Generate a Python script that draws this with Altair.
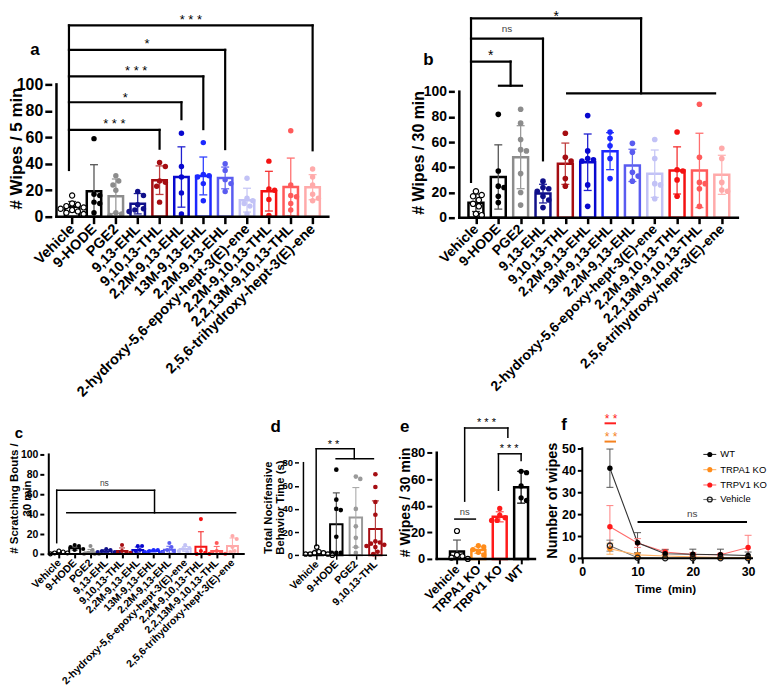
import json
import altair as alt
import pandas as pd

FONT = "Liberation Sans"

# ===================== data: panels a, b, c (12 compounds) =====================
compounds = ["Vehicle", "9-HODE", "PGE2", "9,13-EHL", "9,10,13-THL",
             "2,2M-9,13-EHL", "13M-9,13-EHL", "2,2M-9,13-EHL",
             "2-hydroxy-5,6-epoxy-hept-3(E)-ene", "2,2M-9,10,13-THL",
             "2,2,13M-9,10,13-THL", "2,5,6-trihydroxy-hept-3(E)-ene"]
compound_colors = ["#000000", "#000000", "#8c8c8c", "#10108a", "#a50d12",
                   "#0808cf", "#1c28ff", "#5a5cf0", "#c2c2f6", "#f41212",
                   "#ff5a5a", "#ffaaaa"]
compound_err_colors = ["#333333", "#555555", "#9a9a9a", "#20209a", "#c04040",
                       "#2020d0", "#3040ff", "#6a6cf0", "#c8c8f6", "#f53030",
                       "#ff7070", "#ffb5b5"]

a_means = [7.5, 19.3, 15.5, 9.8, 27.6, 30.0, 30.8, 29.3, 12.5, 19.3, 22.5, 22.3]
a_sds = [4.0, 20.0, 13.0, 7.7, 10.8, 22.8, 14.3, 8.2, 9.0, 15.0, 21.8, 9.5]
a_points = [[16, 10, 9, 8, 7, 6, 5, 4, 3, 2],
            [59, 17, 16, 11, 10, 3],
            [31, 27, 24, 20, 3, 2, 1],
            [19, 16, 9, 6, 5, 4],
            [41, 38, 27, 26, 23, 11],
            [63, 38, 30, 18, 2],
            [56, 32, 31, 30, 25, 12],
            [40, 35, 28, 25, 19],
            [29, 14, 12, 10, 8, 2],
            [42, 21, 20, 13, 1],
            [65, 24, 16, 15, 10, 5],
            [36, 30, 24, 17, 14, 12]]
a_brackets = [(-0.145, 144.6, -0.145, 35.3),
              (-0.145, 65.6, 4, 65.6), (4, 65.6, 4, 51.4),
              (-0.145, 86.5, 5, 86.5), (5, 86.5, 5, 73.7),
              (-0.145, 106.0, 6, 106.0), (6, 106.0, 6, 66.2),
              (-0.145, 126.1, 7, 126.1), (7, 126.1, 7, 51.1),
              (-0.145, 144.6, 11, 144.6), (11, 144.6, 11, 50.2)]
a_marks = [(1.93, 72.9, "* * *"), (2.43, 92.5, "*"), (2.93, 112.8, "* * *"),
           (3.43, 133.0, "*"), (5.43, 151.6, "* * *")]

b_means = [11.8, 32.3, 48.0, 19.1, 42.8, 44.0, 52.8, 41.5, 34.9, 37.5, 37.5, 34.0]
b_sds = [6.9, 25.5, 25.0, 7.4, 16.4, 22.4, 14.7, 12.8, 18.8, 18.7, 29.5, 15.5]
b_points = [[21, 18, 17, 14, 11, 9, 3, 2],
            [82, 37, 25, 24, 17, 12],
            [86, 75, 62, 54, 53, 35, 20, 10],
            [29, 24, 23, 21, 17, 14, 8],
            [67, 48, 45, 31, 25],
            [81, 53, 47, 46, 45, 26, 9],
            [68, 63, 57, 47, 31],
            [59, 52, 36, 33, 29],
            [62, 47, 27, 26, 15],
            [68, 38, 37, 30, 17],
            [90, 48, 28, 27, 23, 9],
            [55, 47, 28, 22, 21]]
b_brackets = [(-0.22, 158.2, -0.22, 28.4),
              (-0.22, 123.9, 1.55, 123.9), (1.55, 123.9, 1.55, 104.7), (1.03, 104.7, 2.06, 104.7),
              (-0.22, 142.0, 3.0, 142.0), (3.0, 142.0, 3.0, 45.5),
              (-0.22, 158.2, 7.39, 158.2), (7.39, 158.2, 7.39, 98.7), (4.08, 98.7, 10.7, 98.7)]
b_marks = [(0.66, 131.0, "*"), (1.39, 149.4, "ns"), (3.59, 162.2, "*")]

c_means = [1.5, 5.7, 1.5, 2.8, 3.0, 4.0, 3.0, 4.2, 5.0, 7.3, 3.0, 8.0]
c_sds = [1.0, 2.0, 3.0, 1.5, 3.0, 3.0, 1.0, 3.5, 2.5, 15.0, 4.5, 8.0]
c_points = [[3, 2, 1, 1, 0],
            [9, 8, 7, 5, 4],
            [8, 4, 1, 0, 0, 0],
            [5, 4, 3, 2, 2, 1],
            [9, 3, 2, 1, 1],
            [8, 8, 4, 3, 1],
            [4, 4, 3, 2, 2],
            [11, 7, 4, 3, 1],
            [9, 6, 5, 3, 2],
            [35, 3, 1, 0, 0],
            [11, 3, 2, 1, 0],
            [18, 15, 7, 3, 2]]
c_brackets = [(-0.14, 64.0, -0.14, 11.3),
              (-0.14, 64.0, 6.06, 64.0), (6.06, 64.0, 6.06, 41.3), (0.5, 41.3, 11.2, 41.3)]
c_marks = [(2.88, 71.0, "ns")]

# ===================== data: panel d =====================
d_names = ["Vehicle", "9-HODE", "PGE2", "9,10,13-THL"]
d_colors = ["#000000", "#000000", "#9a9a9a", "#a50d12"]
d_err_colors = ["#444444", "#444444", "#aaaaaa", "#b03030"]
d_means = [2.0, 26.7, 32.7, 22.6]
d_sds = [2.3, 27.2, 25.8, 24.4]
d_points = [[7, 3, 2, 2, 1, 1, 1, 0],
            [74, 48, 40, 39, 16, 2, 2, 2],
            [68, 66, 40, 25, 15, 7, 2],
            [70, 59, 46, 35, 12, 11, 10, 9, 8, 7, 3, 1]]
d_brackets = [(-0.03, 92.0, -0.03, 8.3),
              (-0.03, 92.0, 1.92, 92.0), (1.92, 92.0, 1.92, 83.4), (0.99, 83.4, 2.9, 83.4)]
d_marks = [(0.86, 97.7, "* *")]

# ===================== data: panel e =====================
e_names = ["Vehicle", "TRPA1 KO", "TRPV1 KO", "WT"]
e_colors = ["#000000", "#ff8c1a", "#ff1a1a", "#000000"]
e_err_colors = ["#555555", "#ffa64d", "#ff4d4d", "#000000"]
e_means = [5.5, 6.7, 31.7, 54.0]
e_sds = [8.7, 2.5, 3.8, 12.0]
e_points = [[21, 3, 2, 1, 0],
            [10, 9, 7, 5, 3],
            [38, 33, 31, 29, 29],
            [66, 65, 55, 46, 44]]
e_brackets = [(0.36, 98.7, 2.38, 98.7), (0.36, 98.7, 0.36, 43.5), (2.38, 98.7, 2.38, 91.7),
              (1.94, 79.2, 3.0, 79.2), (1.94, 79.2, 1.94, 51.7), (3.0, 79.2, 3.0, 74.2),
              (-0.1, 30.0, 0.86, 30.0)]
e_marks = [(1.38, 104.7, "* * *"), (2.44, 84.7, "* * *"), (0.36, 35.5, "ns")]

# ===================== data: panel f =====================
f_times = [5, 10, 15, 20, 25, 30]
f_series = ["Vehicle", "TRPA1 KO", "TRPV1 KO", "WT"]
f_means = [[5.7, 0.2, 0.0, 0.0, 0.0, 0.0],
           [4.3, 1.5, 1.0, 0.6, 0.3, 0.3],
           [14.3, 6.9, 2.8, 1.7, 1.6, 4.9],
           [40.9, 7.0, 2.0, 1.8, 1.6, 1.2]]
f_sds = [[2.5, 0.3, 0.0, 0.0, 0.0, 0.0],
         [2.5, 1.0, 0.8, 0.6, 0.4, 0.4],
         [9.6, 2.0, 1.3, 0.8, 0.6, 5.5],
         [8.7, 4.6, 1.8, 2.3, 2.5, 1.6]]
f_point_colors = ["#000000", "#ff8c1a", "#ff1a1a", "#000000"]
f_line_colors = ["#777777", "#ffb366", "#ff6b6b", "#333333"]
f_err_colors = ["#777777", "#ffb366", "#ff8080", "#555555"]
f_hollow = [True, False, False, False]
f_lines = [(4.03, 61.3, 6.1, 61.3, "#ff2020"), (4.03, 53.0, 6.1, 53.0, "#f5821f"),
           (10.0, 16.5, 29.8, 16.5, "#000000")]
f_marks = [(5.2, 64.8, "* *", "#ff2020"), (5.2, 56.5, "* *", "#f5821f"), (19.9, 20.0, "ns", "#444444")]
legend_labels = ["WT", "TRPA1 KO", "TRPV1 KO", "Vehicle"]
legend_point_colors = ["#000000", "#ff8c1a", "#ff1a1a", "#000000"]
legend_line_colors = ["#333333", "#ffb366", "#ff6b6b", "#777777"]
legend_hollow = [False, False, False, True]


def swarm(vals, ppu, diam, step):
    cands = [0.0]
    for j in range(1, 16):
        cands += [j * 0.5 * diam, -j * 0.5 * diam]
    placed, offs = [], []
    for v in vals:
        y = v * ppu
        chosen = 0.0
        for c in cands:
            if all((c - px) ** 2 + (y - py) ** 2 >= (0.95 * diam) ** 2 for px, py in placed):
                chosen = c
                break
        placed.append((chosen, y))
        offs.append(chosen / step)
    return offs


def letter_layer(letter, lx, ly, fs):
    return alt.Chart(pd.DataFrame({"t": [letter]})).mark_text(
        font=FONT, fontSize=fs, fontWeight="bold", color="black",
        align="center", baseline="middle").encode(
        x=alt.value(lx), y=alt.value(ly), text="t:N")


def bar_panel(P):
    names = P["names"]
    n = len(names)
    step = P["step"]
    d0 = -P["first"] / step
    d1 = d0 + P["W"] / step
    ymax = P["H"] / P["ppu"]
    ax_x = d0 + P["yoff"] / step
    xs = alt.Scale(domain=[d0, d1], nice=False, zero=False)
    ys = alt.Scale(domain=[0, ymax], nice=False, zero=False)
    label_expr = json.dumps(names) + "[round(datum.value)]"
    xaxis = alt.Axis(values=list(range(n)), labelExpr=label_expr, labelAngle=-45,
                     labelAlign="right", labelBaseline="middle", labelFont=FONT,
                     labelFontSize=P["xfs"], labelFontWeight="bold", labelColor="black",
                     labelPadding=P["xlp"], labelOverlap=False, labelFlush=False,
                     labelLimit=1000,
                     ticks=True, tickSize=P["tick"], tickWidth=P["tickw"], tickColor="black",
                     domain=False, grid=False, title=None)
    yaxis = alt.Axis(values=P["yticks"], labelFont=FONT, labelFontSize=P["yfs"],
                     labelFontWeight="bold", labelColor="black", labelPadding=2,
                     labelOverlap=False, labelFlush=False,
                     tickSize=P["tick"], tickWidth=P["tickw"], tickColor="black",
                     domain=False, grid=False, offset=-P["yoff"],
                     title=P["ytitle"], titleFont=FONT, titleFontSize=P["tfs"],
                     titleFontWeight="bold", titleColor="black", titleAngle=270,
                     titleAlign="center", titleBaseline="middle",
                     titleX=P["titleX"], titleY=P["titleY"], titleLineHeight=P["tlh"])

    def X(f):
        return alt.X(f, type="quantitative", scale=xs, axis=xaxis)

    def Y(f):
        return alt.Y(f, type="quantitative", scale=ys, axis=yaxis)

    bars = pd.DataFrame({"i": list(range(n)), "m": P["means"], "s": P["sds"],
                         "c": P["colors"], "ec": P["ecolors"]})
    bars["hi"] = bars["m"] + bars["s"]
    bars["lo"] = (bars["m"] - bars["s"]).clip(lower=0)
    low_caps = bars[bars["m"] - bars["s"] > 0]

    rows = []
    for i, vals in enumerate(P["points"]):
        offs = swarm(vals, P["ppu"], P["diam"], step)
        for v, o in zip(vals, offs):
            rows.append({"xj": i + o, "v": v, "c": P["colors"][i], "h": i in P["hollow"]})
    pts = pd.DataFrame(rows)
    filled = pts[~pts["h"]]
    hollow = pts[pts["h"]]

    layers = []
    layers.append(alt.Chart(bars).mark_bar(size=P["barw"], fill="white", strokeWidth=P["barsw"],
                                           opacity=1).encode(
        x=X("i"), y=Y("m"), stroke=alt.Stroke("c:N", scale=None)))
    layers.append(alt.Chart(bars).mark_rule(strokeWidth=P["errw"], opacity=1).encode(
        x=X("i"), y=Y("lo"), y2="hi", color=alt.Color("ec:N", scale=None)))
    layers.append(alt.Chart(bars).mark_rule(strokeWidth=P["errw"], xOffset=-P["cap"],
                                            x2Offset=P["cap"], opacity=1).encode(
        x=X("i"), x2="i", y=Y("hi"), color=alt.Color("ec:N", scale=None)))
    if len(low_caps):
        layers.append(alt.Chart(low_caps).mark_rule(strokeWidth=P["errw"], xOffset=-P["cap"],
                                                    x2Offset=P["cap"], opacity=1).encode(
            x=X("i"), x2="i", y=Y("lo"), color=alt.Color("ec:N", scale=None)))
    layers.append(alt.Chart(filled).mark_circle(size=P["pt"], opacity=1).encode(
        x=X("xj"), y=Y("v"), color=alt.Color("c:N", scale=None)))
    if len(hollow):
        layers.append(alt.Chart(hollow).mark_point(shape="circle", size=P["pt"] * 0.9,
                                                   filled=True, fill="white", stroke="black",
                                                   strokeWidth=1.2, opacity=1).encode(
            x=X("xj"), y=Y("v")))
    axes = pd.DataFrame({"x1": [ax_x, ax_x], "x2": [ax_x, d1], "y1": [0, 0],
                         "y2": [P["ytop"], 0]})
    layers.append(alt.Chart(axes).mark_rule(color="black", strokeWidth=P["axw"],
                                            strokeCap="square").encode(
        x=X("x1"), x2="x2", y=Y("y1"), y2="y2"))
    br = pd.DataFrame(P["brackets"], columns=["x1", "y1", "x2", "y2"])
    layers.append(alt.Chart(br).mark_rule(color="black", strokeWidth=P["bw"],
                                          strokeCap="square").encode(
        x=X("x1"), x2="x2", y=Y("y1"), y2="y2"))
    mk = pd.DataFrame(P["marks"], columns=["x", "y", "t"])
    stars = mk[mk["t"].str.contains("*", regex=False)]
    nss = mk[~mk["t"].str.contains("*", regex=False)]
    if len(stars):
        layers.append(alt.Chart(stars).mark_text(font=FONT, fontSize=P["sfs"], color="black",
                                                 baseline="middle", align="center",
                                                 dy=0.27 * P["sfs"]).encode(
            x=X("x"), y=Y("y"), text="t:N"))
    if len(nss):
        layers.append(alt.Chart(nss).mark_text(font=FONT, fontSize=P["nsfs"], color="#444444",
                                               baseline="middle", align="center").encode(
            x=X("x"), y=Y("y"), text="t:N"))
    layers.append(letter_layer(P["letter"], P["lx"], P["ly"], P["lfs"]))
    return alt.layer(*layers).properties(width=P["W"], height=P["H"])


common_a = dict(names=compounds, colors=compound_colors, ecolors=compound_err_colors, hollow=[0])

A = bar_panel(dict(common_a, means=a_means, sds=a_sds, points=a_points, brackets=a_brackets,
                   marks=a_marks, W=291, H=207, first=24.3, step=22.76, ppu=1.33, yoff=8,
                   ytop=100, yticks=[0, 20, 40, 60, 80, 100], xfs=14.5, yfs=16, xlp=3,
                   tick=7, tickw=2.5, ytitle="# Wipes / 5 min", tfs=17, tlh=19,
                   titleX=-35, titleY=138, barw=14.5, barsw=2.5, errw=1.3, cap=4, pt=30,
                   diam=6, axw=2.5, bw=2.2, sfs=13, nsfs=10, letter="a", lx=-9, ly=39, lfs=17))

B = bar_panel(dict(common_a, means=b_means, sds=b_sds, points=b_points, brackets=b_brackets,
                   marks=b_marks, W=290, H=208, first=17.3, step=23.27, ppu=1.267, yoff=0,
                   ytop=100, yticks=[0, 20, 40, 60, 80, 100], xfs=14, yfs=14, xlp=3,
                   tick=6, tickw=2.5, ytitle="# Wipes / 30 min", tfs=16, tlh=18,
                   titleX=-35.7, titleY=142.3, barw=15, barsw=2.5, errw=1.3, cap=4, pt=32,
                   diam=6, axw=2.5, bw=2.2, sfs=14, nsfs=10, letter="b", lx=-26, ly=50, lfs=17))

C = bar_panel(dict(common_a, means=c_means, sds=c_sds, points=c_points, brackets=c_brackets,
                   marks=c_marks, W=206, H=144, first=10.7, step=16.67, ppu=1.0, yoff=0,
                   ytop=100, yticks=[0, 20, 40, 60, 80, 100], xfs=10.5, yfs=10.5, xlp=3,
                   tick=4, tickw=2, ytitle=["# Scratching Bouts /", "30 min"], tfs=11.5, tlh=12.5,
                   titleX=-29, titleY=87.8, barw=11, barsw=2, errw=1.1, cap=3, pt=17,
                   diam=4.5, axw=2, bw=1.5, sfs=11, nsfs=8.5, letter="c", lx=-25, ly=22.7, lfs=15))

D = bar_panel(dict(names=d_names, colors=d_colors, ecolors=d_err_colors, hollow=[0],
                   means=d_means, sds=d_sds, points=d_points, brackets=d_brackets,
                   marks=d_marks, W=93.3, H=145.3, first=15, step=22, ppu=1.1625, yoff=0,
                   ytop=80, yticks=[0, 20, 40, 60, 80], xfs=10.5, yfs=9.5, xlp=3,
                   tick=4, tickw=1.5, ytitle=["Total Nocifensive", "Behavior Time (s)"],
                   tfs=11.3, tlh=12, titleX=-30, titleY=97, barw=12.5, barsw=2, errw=1.1,
                   cap=3.5, pt=22, diam=5, axw=1.5, bw=1.5, sfs=11, nsfs=9, letter="d",
                   lx=-23, ly=16, lfs=17))

E = bar_panel(dict(names=e_names, colors=e_colors, ecolors=e_err_colors, hollow=[0],
                   means=e_means, sds=e_sds, points=e_points, brackets=e_brackets,
                   marks=e_marks, W=108.7, H=149, first=22.4, step=23.67, ppu=1.334, yoff=0,
                   ytop=80, yticks=[0, 20, 40, 60, 80], xfs=12.5, yfs=13, xlp=3,
                   tick=5, tickw=2, ytitle="# Wipes / 30 min", tfs=14.2, tlh=16,
                   titleX=-26.6, titleY=91.7, barw=14, barsw=2.5, errw=1.2, cap=4, pt=28,
                   diam=6, axw=2.5, bw=1.5, sfs=11, nsfs=9.5, letter="e", lx=-27.3, ly=16,
                   lfs=17))


def f_panel():
    W, H, ppu = 170.6, 148.3, 2.212
    xmax = 30.7
    ymax = H / ppu
    xs = alt.Scale(domain=[0, xmax], nice=False, zero=False)
    ys = alt.Scale(domain=[0, ymax], nice=False, zero=False)
    xaxis = alt.Axis(values=[0, 10, 20, 30], labelFont=FONT, labelFontSize=12.5,
                     labelFontWeight="bold", labelColor="black", labelPadding=2,
                     labelFlush=False, labelOverlap=False, tickSize=5, tickWidth=2,
                     tickColor="black", domain=False, grid=False,
                     title="Time\u00a0 (min)", titleFont=FONT, titleFontSize=11.6,
                     titleFontWeight="bold", titleColor="black", titleAngle=0,
                     titleAlign="center", titleBaseline="middle", titleX=83.2, titleY=31)
    yaxis = alt.Axis(values=[0, 10, 20, 30, 40, 50], labelFont=FONT, labelFontSize=12.5,
                     labelFontWeight="bold", labelColor="black", labelPadding=2,
                     labelFlush=False, labelOverlap=False, tickSize=5, tickWidth=2,
                     tickColor="black", domain=False, grid=False,
                     title="Number of wipes", titleFont=FONT, titleFontSize=14.5,
                     titleFontWeight="bold", titleColor="black", titleAngle=270,
                     titleAlign="center", titleBaseline="middle", titleX=-30.3, titleY=90)

    def X(f):
        return alt.X(f, type="quantitative", scale=xs, axis=xaxis)

    def Y(f):
        return alt.Y(f, type="quantitative", scale=ys, axis=yaxis)

    rows = []
    for k, s in enumerate(f_series):
        for t, m, sd in zip(f_times, f_means[k], f_sds[k]):
            rows.append({"t": t, "m": m, "lo": max(m - sd, 0), "hi": m + sd, "s": s,
                         "pc": f_point_colors[k], "lc": f_line_colors[k],
                         "ec": f_err_colors[k], "h": f_hollow[k], "o": k,
                         "cap_lo": m - sd > 0.3})
    df = pd.DataFrame(rows)
    layers = []
    layers.append(alt.Chart(df).mark_line(strokeWidth=1.1, opacity=1).encode(
        x=X("t"), y=Y("m"), color=alt.Color("lc:N", scale=None), detail="s:N", order="t:Q"))
    err = df[df["hi"] > df["m"]]
    layers.append(alt.Chart(err).mark_rule(strokeWidth=1, opacity=1).encode(
        x=X("t"), y=Y("lo"), y2="hi", color=alt.Color("ec:N", scale=None)))
    layers.append(alt.Chart(err).mark_rule(strokeWidth=1, xOffset=-3.5, x2Offset=3.5,
                                           opacity=1).encode(
        x=X("t"), x2="t", y=Y("hi"), color=alt.Color("ec:N", scale=None)))
    lowc = df[df["cap_lo"]]
    layers.append(alt.Chart(lowc).mark_rule(strokeWidth=1, xOffset=-3.5, x2Offset=3.5,
                                            opacity=1).encode(
        x=X("t"), x2="t", y=Y("lo"), color=alt.Color("ec:N", scale=None)))
    layers.append(alt.Chart(df[~df["h"]]).mark_circle(size=30, opacity=1).encode(
        x=X("t"), y=Y("m"), color=alt.Color("pc:N", scale=None)))
    layers.append(alt.Chart(df[df["h"]]).mark_point(shape="circle", size=28, filled=False,
                                                    strokeWidth=1.3, color="#222222",
                                                    opacity=1).encode(
        x=X("t"), y=Y("m")))
    axes = pd.DataFrame({"x1": [0, 0], "x2": [0, xmax], "y1": [0, 0], "y2": [50, 0]})
    layers.append(alt.Chart(axes).mark_rule(color="black", strokeWidth=2,
                                            strokeCap="square").encode(
        x=X("x1"), x2="x2", y=Y("y1"), y2="y2"))
    ln = pd.DataFrame(f_lines, columns=["x1", "y1", "x2", "y2", "c"])
    layers.append(alt.Chart(ln).mark_rule(strokeWidth=2, opacity=1).encode(
        x=X("x1"), x2="x2", y=Y("y1"), y2="y2", color=alt.Color("c:N", scale=None)))
    mk = pd.DataFrame(f_marks, columns=["x", "y", "t", "c"])
    stars = mk[mk["t"].str.contains("*", regex=False)]
    nss = mk[~mk["t"].str.contains("*", regex=False)]
    layers.append(alt.Chart(stars).mark_text(font=FONT, fontSize=12, baseline="middle",
                                             align="center", dy=3.2).encode(
        x=X("x"), y=Y("y"), text="t:N", color=alt.Color("c:N", scale=None)))
    layers.append(alt.Chart(nss).mark_text(font=FONT, fontSize=10, baseline="middle",
                                           align="center").encode(
        x=X("x"), y=Y("y"), text="t:N", color=alt.Color("c:N", scale=None)))
    # legend
    leg_y = [44, 59.3, 74.7, 89.3]
    for k, lab in enumerate(legend_labels):
        one = pd.DataFrame({"t": [lab]})
        layers.append(alt.Chart(one).mark_rule(color=legend_line_colors[k], strokeWidth=1.1).encode(
            x=alt.value(121.7), x2=alt.value(134.7), y=alt.value(leg_y[k])))
        if legend_hollow[k]:
            layers.append(alt.Chart(one).mark_point(shape="circle", size=24, filled=False,
                                                    strokeWidth=1.3, color="#222222",
                                                    opacity=1).encode(
                x=alt.value(128.2), y=alt.value(leg_y[k])))
        else:
            layers.append(alt.Chart(one).mark_circle(size=26, color=legend_point_colors[k],
                                                     opacity=1).encode(
                x=alt.value(128.2), y=alt.value(leg_y[k])))
        layers.append(alt.Chart(one).mark_text(font=FONT, fontSize=9.5, color="black",
                                               align="left", baseline="middle").encode(
            x=alt.value(138.7), y=alt.value(leg_y[k]), text="t:N"))
    layers.append(letter_layer("f", -18.3, 14, 17))
    return alt.layer(*layers).properties(width=W, height=H)


F = f_panel()

top = alt.hconcat(A, B, spacing=121.7, bounds="flush")
bottom = alt.hconcat(
    C,
    alt.hconcat(D, alt.hconcat(E, F, spacing=42.3, bounds="flush"), spacing=40, bounds="flush"),
    spacing=50, bounds="flush")
chart = alt.vconcat(top, bottom, spacing=11, bounds="full").properties(
    padding=0).configure_view(stroke=None)

chart.save("out.html", embed_options={"renderer": "svg", "actions": False})
